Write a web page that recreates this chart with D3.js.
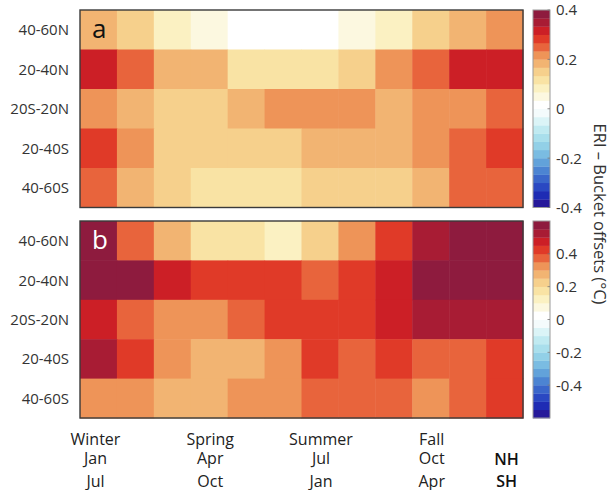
<!DOCTYPE html>
<html>
<head>
<meta charset="utf-8">
<script src="https://cdn.jsdelivr.net/npm/d3@7"></script>
<style>
  body { margin: 0; background: #fff; }
  svg { display: block; }
  text { font-family: "Open Sans", sans-serif; }
</style>
</head>
<body>
<svg id="chart" width="611" height="490"></svg>
<script>
// Months (columns) and latitude bands (rows)
const months = ["Jan", "Feb", "Mar", "Apr", "May", "Jun", "Jul", "Aug", "Sep", "Oct", "Nov", "Dec"];
const latBands = ["40-60N", "20-40N", "20S-20N", "20-40S", "40-60S"];

// Panel a: ERI - bucket offsets (°C), one row per latitude band
const offsetsA_4060N = [0.18, 0.15, 0.08, 0.05, 0.01, 0.01, 0.01, 0.05, 0.08, 0.15, 0.18, 0.21];
const offsetsA_2040N = [0.31, 0.25, 0.18, 0.18, 0.11, 0.11, 0.11, 0.15, 0.21, 0.25, 0.31, 0.31];
const offsetsA_20S20N = [0.21, 0.18, 0.15, 0.15, 0.18, 0.21, 0.21, 0.21, 0.18, 0.21, 0.21, 0.25];
const offsetsA_2040S = [0.28, 0.21, 0.15, 0.15, 0.15, 0.15, 0.18, 0.18, 0.18, 0.21, 0.25, 0.28];
const offsetsA_4060S = [0.25, 0.18, 0.15, 0.11, 0.11, 0.11, 0.15, 0.15, 0.15, 0.18, 0.25, 0.25];

// Panel b
const offsetsB_4060N = [0.57, 0.37, 0.27, 0.17, 0.17, 0.12, 0.22, 0.32, 0.42, 0.52, 0.57, 0.57];
const offsetsB_2040N = [0.57, 0.57, 0.47, 0.42, 0.42, 0.42, 0.37, 0.42, 0.47, 0.57, 0.57, 0.57];
const offsetsB_20S20N = [0.47, 0.37, 0.32, 0.32, 0.37, 0.42, 0.42, 0.42, 0.47, 0.52, 0.52, 0.52];
const offsetsB_2040S = [0.52, 0.42, 0.32, 0.27, 0.27, 0.32, 0.42, 0.37, 0.42, 0.37, 0.37, 0.42];
const offsetsB_4060S = [0.32, 0.32, 0.27, 0.27, 0.32, 0.32, 0.37, 0.37, 0.37, 0.32, 0.37, 0.42];

// Colour-bar limits and ticks
const limitsA = [-0.4, 0.4];
const limitsB = [-0.6, 0.6];
const cbarTicks = [-0.4, -0.2, 0, 0.2, 0.4];

// Axis labels under the panels: season, NH month, SH month
const seasonLabels = ["Winter", "Spring", "Summer", "Fall"];
const nhMonths = ["Jan", "Apr", "Jul", "Oct"];
const shMonths = ["Jul", "Oct", "Jan", "Apr"];
const labelColumns = ["Jan", "Apr", "Jul", "Oct"];

// 24-step diverging palette, blue (negative) -> white -> dark red (positive)
const palette = [
  "#26199a", "#1e2cb4", "#2a48c2", "#3a66ca", "#4c84d2", "#62a2da",
  "#7abce2", "#92d0e7", "#a9dfec", "#c0eaf1", "#dbf4f7", "#f4fbfc",
  "#ffffff", "#fcf8e0", "#fbf1c2", "#f9e3a4", "#f6d08c", "#f2b472",
  "#ee9458", "#e8643c", "#e03a28", "#cc1f26", "#a81c34", "#8e1b3e"
];

const panels = [
  { letter: "a", letterColor: "#111", top: 10, bottom: 207.5, limits: limitsA,
    rows: [offsetsA_4060N, offsetsA_2040N, offsetsA_20S20N, offsetsA_2040S, offsetsA_4060S] },
  { letter: "b", letterColor: "#fff", top: 221, bottom: 418, limits: limitsB,
    rows: [offsetsB_4060N, offsetsB_2040N, offsetsB_20S20N, offsetsB_2040S, offsetsB_4060S] }
];

const svg = d3.select("#chart");
const left = 80, right = 523;
const cbLeft = 533, cbRight = 550;

const x = d3.scaleBand().domain(months).range([left, right]);

panels.forEach(p => {
  const y = d3.scaleBand().domain(latBands).range([p.top, p.bottom]);
  const color = d3.scaleQuantize().domain(p.limits).range(palette);

  const cells = [];
  p.rows.forEach((vals, i) => vals.forEach((v, j) => cells.push({ lat: latBands[i], month: months[j], v })));

  const g = svg.append("g");
  g.selectAll("rect.cell").data(cells).join("rect")
    .attr("class", "cell")
    .attr("x", d => x(d.month))
    .attr("y", d => y(d.lat))
    .attr("width", x.bandwidth() + 0.5)
    .attr("height", y.bandwidth() + 0.5)
    .attr("fill", d => color(d.v));

  // frame
  g.append("rect")
    .attr("x", left).attr("y", p.top)
    .attr("width", right - left).attr("height", p.bottom - p.top)
    .attr("fill", "none").attr("stroke", "#3a3a3a").attr("stroke-width", 1.4);

  // latitude labels
  g.selectAll("text.lat").data(latBands).join("text")
    .attr("class", "lat")
    .attr("x", 69)
    .attr("y", d => y(d) + y.bandwidth() / 2)
    .attr("dy", "0.36em")
    .attr("text-anchor", "end")
    .attr("font-size", 15)
    .attr("fill", "#333")
    .text(d => d);

  // panel letter
  g.append("text")
    .attr("x", 92).attr("y", p.top + 28)
    .attr("font-size", 26)
    .attr("fill", p.letterColor)
    .text(p.letter);

  // colour bar
  const cy = d3.scaleLinear().domain(p.limits).range([p.bottom, p.top]);
  const cb = svg.append("g");
  cb.selectAll("rect").data(palette).join("rect")
    .attr("x", cbLeft)
    .attr("width", cbRight - cbLeft)
    .attr("y", c => cy(color.invertExtent(c)[1]))
    .attr("height", c => cy(color.invertExtent(c)[0]) - cy(color.invertExtent(c)[1]) + 0.3)
    .attr("fill", c => c);
  cb.append("rect")
    .attr("x", cbLeft).attr("y", p.top)
    .attr("width", cbRight - cbLeft).attr("height", p.bottom - p.top)
    .attr("fill", "none").attr("stroke", "#9a9a9a").attr("stroke-width", 1);
  cb.selectAll("line").data(cbarTicks).join("line")
    .attr("x1", cbRight - 2.5).attr("x2", cbRight)
    .attr("y1", d => cy(d)).attr("y2", d => cy(d))
    .attr("stroke", "#777").attr("stroke-width", 0.8);
  cb.selectAll("text").data(cbarTicks).join("text")
    .attr("x", 556)
    .attr("y", d => cy(d))
    .attr("dy", "0.36em")
    .attr("font-size", 15)
    .attr("fill", "#333")
    .text(d => d === 0 ? "0" : String(d));
});

// colour-bar title
svg.append("text")
  .attr("transform", "translate(594,214) rotate(90)")
  .attr("text-anchor", "middle")
  .attr("font-size", 16.5)
  .attr("fill", "#333")
  .text("ERI \u2013 Bucket offsets (\u00B0C)");

// season / month labels
const colCenter = m => x(m) + x.bandwidth() / 2;
const bottomRows = [
  { labels: seasonLabels, y: 444.5 },
  { labels: nhMonths, y: 464 },
  { labels: shMonths, y: 486.5 }
];
bottomRows.forEach(r => {
  svg.append("g").selectAll("text").data(r.labels).join("text")
    .attr("x", (d, i) => colCenter(labelColumns[i]) + (i === 0 ? -3 : 1))
    .attr("y", r.y)
    .attr("text-anchor", "middle")
    .attr("font-size", 16)
    .attr("fill", "#222")
    .text(d => d);
});

// hemisphere keys
const hemiX = colCenter("Dec") + 2;
svg.append("text").attr("x", hemiX).attr("y", 464.5)
  .attr("text-anchor", "middle").attr("font-size", 16).attr("font-weight", 600)
  .attr("fill", "#111").text("NH");
svg.append("text").attr("x", hemiX).attr("y", 486.5)
  .attr("text-anchor", "middle").attr("font-size", 16).attr("font-weight", 600)
  .attr("fill", "#111").text("SH");
</script>
</body>
</html>
